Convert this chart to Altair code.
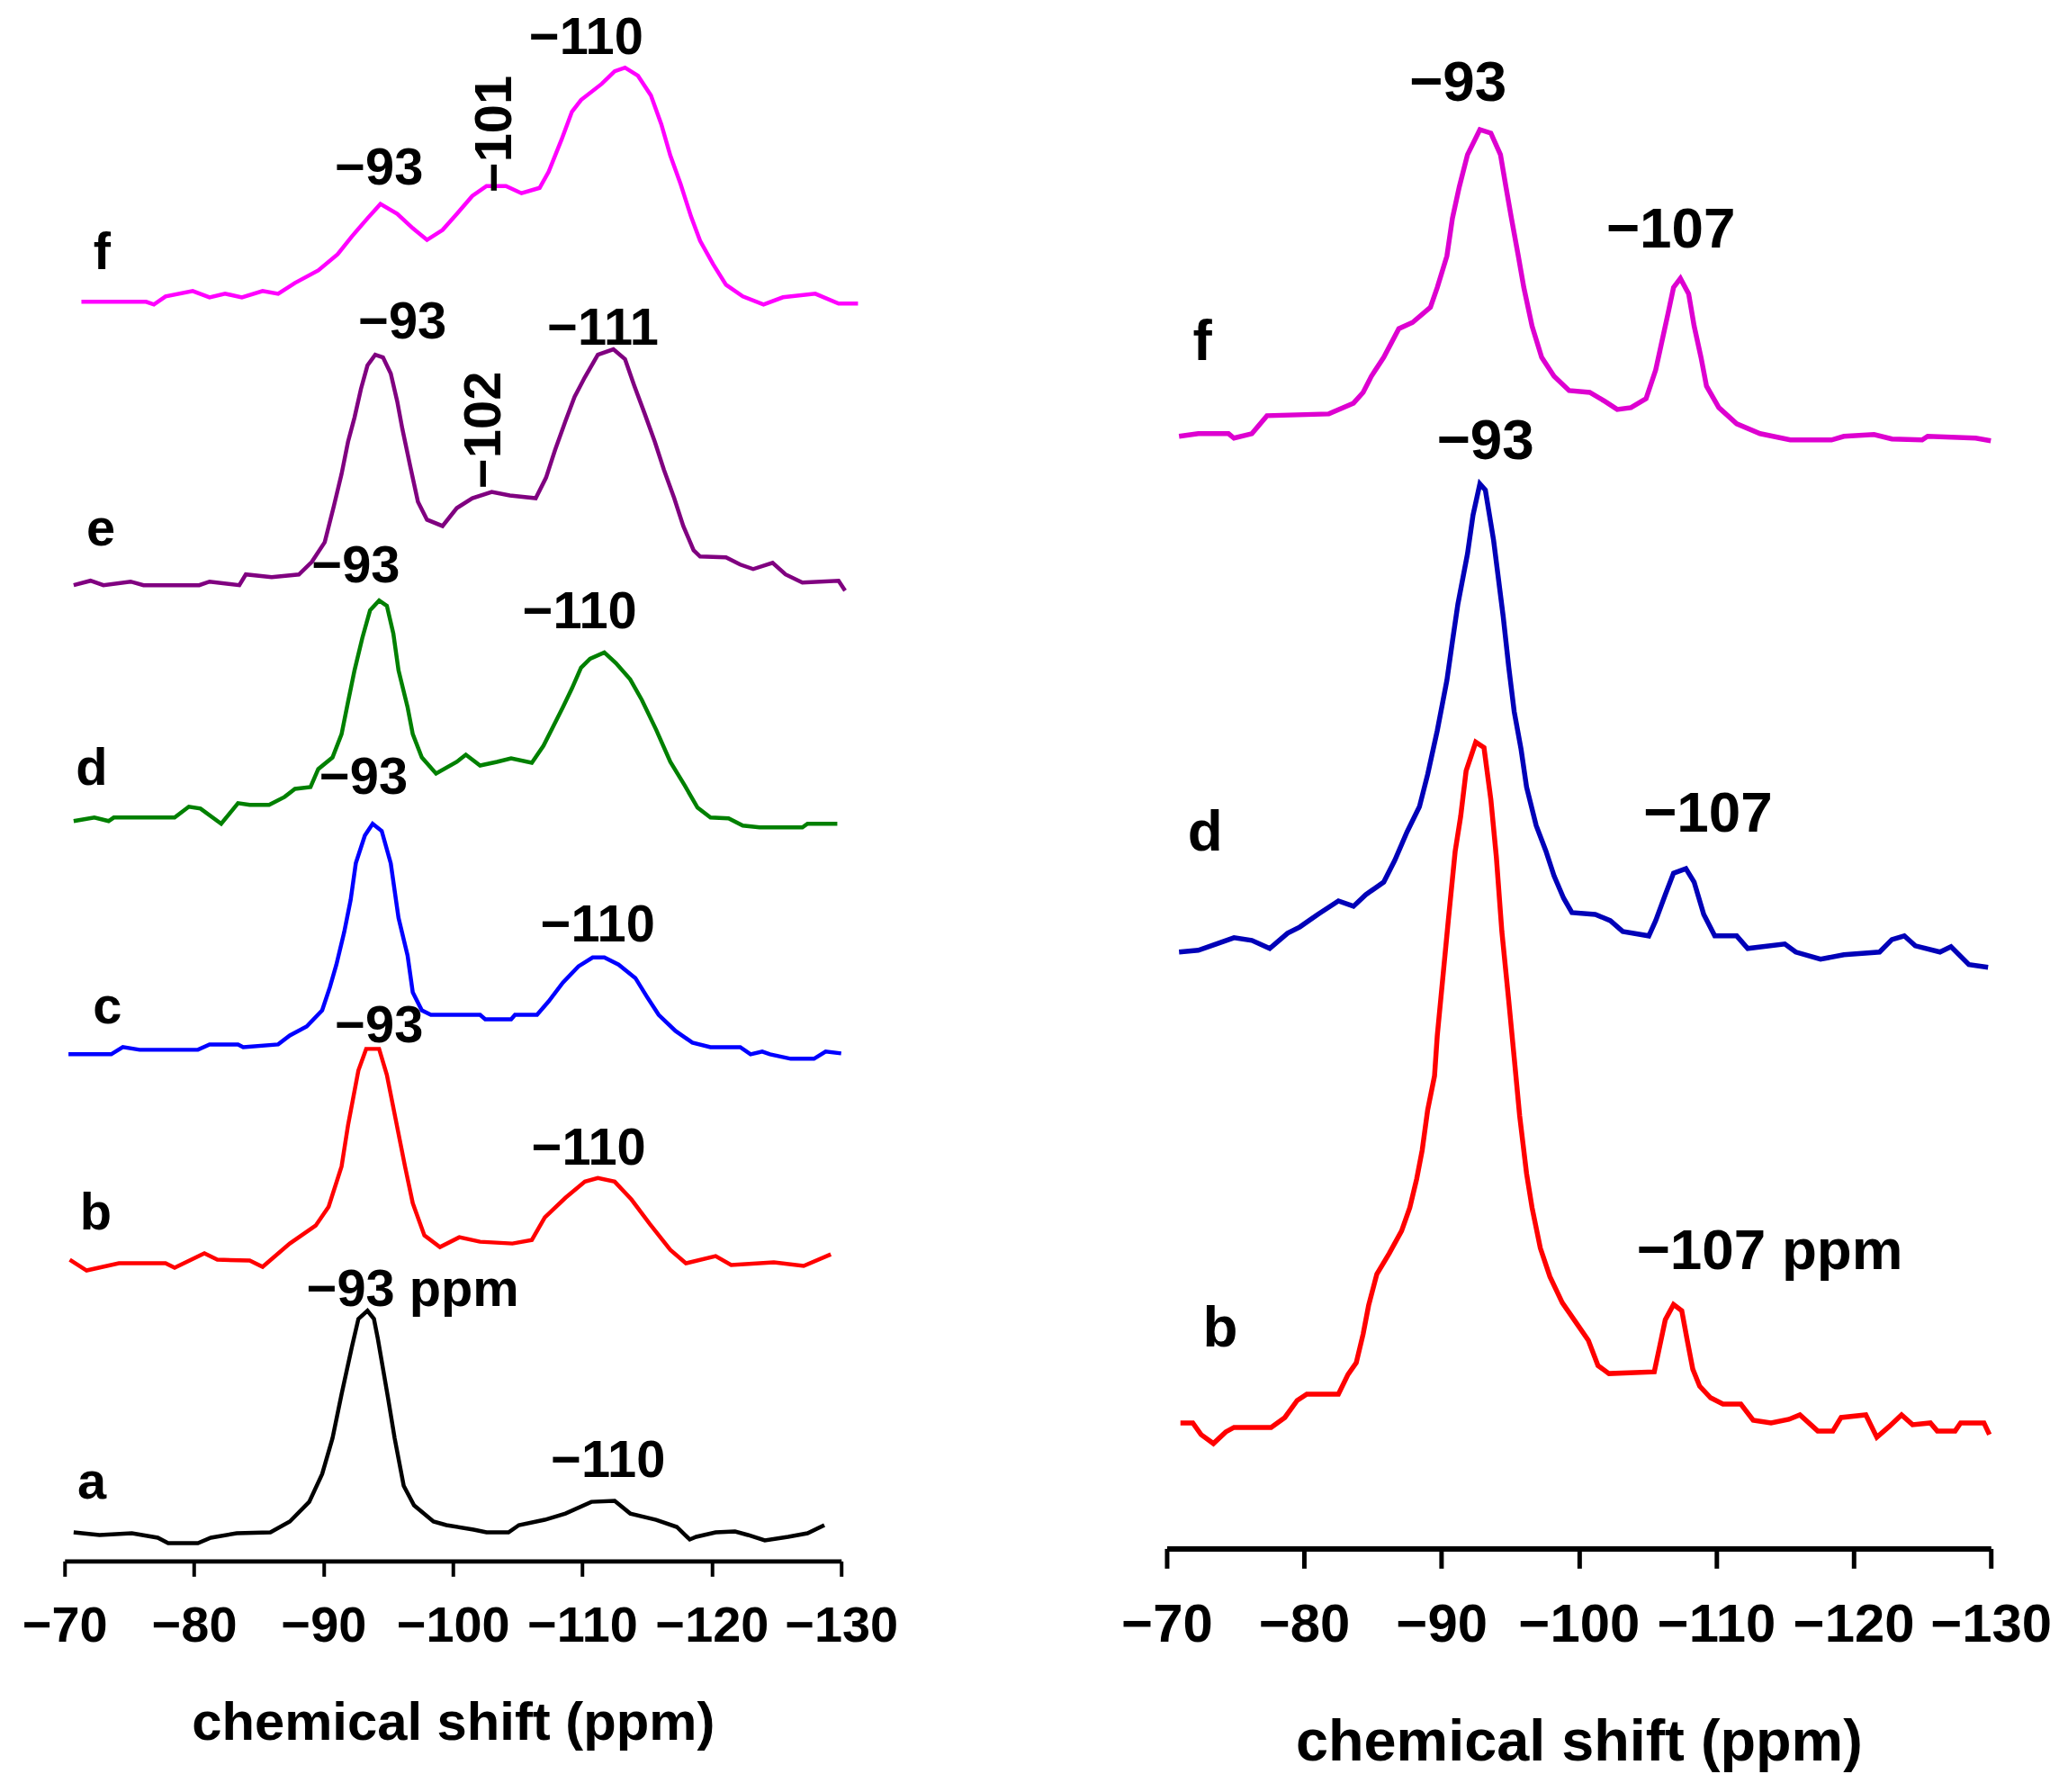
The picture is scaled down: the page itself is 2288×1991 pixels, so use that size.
import altair as alt
import pandas as pd

# ---------------- Left panel spectra (ppm, stacked intensity in a.u.) ----------------
L_a_ppm = [-70.7, -72.7, -75.2, -77.2, -78.0, -80.3, -81.3, -83.3, -85.9, -87.4, -88.9, -89.9, -90.7, -91.4,
           -92.2, -92.7, -93.4, -93.9, -94.2, -95.0, -95.5, -96.2, -97.0, -98.5, -99.5, -101.6, -102.6, -104.3,
           -105.1, -107.1, -108.7, -110.7, -112.5, -113.7, -115.7, -117.3, -118.3, -118.8, -120.3, -121.8,
           -122.8, -124.1, -125.9, -127.4, -128.7]
L_a_int = [32, 29, 31, 26, 20, 20, 26, 31, 32, 44, 66, 97, 137, 186,
           239, 270, 279, 270, 248, 181, 137, 84, 62, 44, 40, 35, 32, 32,
           40, 46, 53, 66, 67, 53, 46, 38, 24, 27, 32, 33,
           29, 23, 27, 31, 40]

L_b_ppm = [-70.4, -71.7, -74.2, -77.8, -78.5, -80.8, -81.8, -84.3, -85.3, -87.4, -89.4, -90.4, -91.4, -91.9,
           -92.7, -93.3, -94.3, -94.9, -95.6, -96.3, -96.9, -97.8, -99.0, -100.5, -102.1, -104.6, -106.1,
           -107.1, -108.7, -110.2, -111.2, -112.5, -113.8, -115.2, -116.8, -118.0, -120.3, -121.5, -124.8,
           -127.1, -129.2]
L_b_int = [336, 324, 332, 332, 327, 343, 336, 335, 328, 354, 374, 395, 440, 486,
           547, 571, 571, 542, 491, 440, 399, 363, 350, 361, 356, 354, 358,
           383, 405, 423, 427, 423, 403, 376, 347, 332, 340, 330, 333,
           329, 342]

L_c_ppm = [-70.3, -73.6, -74.5, -75.8, -80.3, -81.2, -83.4, -83.8, -86.5, -87.4, -88.7, -89.9, -90.5, -91.0,
           -91.6, -92.1, -92.5, -93.2, -93.8, -94.5, -95.2, -95.8, -96.5, -96.9, -97.6, -98.3, -102.1, -102.5,
           -104.5, -104.8, -106.5, -107.4, -108.5, -109.7, -110.8, -111.7, -112.8, -114.1, -115.0, -115.9,
           -117.2, -118.5, -119.9, -122.2, -123.0, -123.9, -124.5, -126.1, -127.9, -128.8, -130.0]
L_c_int = [565, 565, 573, 570, 570, 576, 576, 573, 576, 586, 596, 614, 640, 665,
           701, 737, 778, 809, 822, 814, 778, 717, 675, 634, 614, 609, 609, 604,
           604, 609, 609, 624, 645, 663, 673, 673, 665, 650, 629, 609,
           591, 578, 573, 573, 565, 568, 565, 560, 560, 568, 566]

L_d_ppm = [-70.7, -72.3, -73.4, -73.8, -78.5, -79.6, -80.5, -82.1, -83.4, -84.3, -85.8, -87.0, -87.8, -89.0,
           -89.6, -90.7, -91.4, -91.9, -92.4, -93.0, -93.6, -94.3, -94.9, -95.4, -95.8, -96.5, -96.9, -97.6,
           -98.7, -100.3, -101.0, -102.1, -103.4, -104.5, -106.1, -107.0, -107.8, -108.5, -109.2, -109.9,
           -110.6, -111.7, -112.6, -113.7, -114.6, -115.7, -116.8, -117.9, -118.9, -119.9, -121.3, -122.4,
           -123.7, -127.0, -127.4, -129.7]
L_d_int = [825, 829, 825, 829, 829, 841, 839, 822, 845, 843, 843, 852, 861, 863,
           883, 896, 922, 958, 993, 1029, 1060, 1071, 1065, 1034, 993, 952, 922, 896,
           878, 891, 899, 887, 891, 895, 890, 909, 932, 952, 973, 996,
           1006, 1013, 1001, 983, 960, 927, 891, 865, 840, 829, 828, 820,
           818, 818, 822, 822]

L_e_ppm = [-70.7, -72.0, -73.0, -75.1, -76.1, -80.4, -81.2, -83.5, -84.0, -86.0, -88.1, -89.1, -90.1, -90.8,
           -91.4, -91.9, -92.4, -92.9, -93.4, -94.0, -94.6, -95.2, -95.7, -96.1, -96.7, -97.3, -98.0, -99.2,
           -100.3, -101.5, -103.0, -104.4, -106.4, -107.2, -107.9, -108.7, -109.4, -110.2, -111.2, -112.4,
           -113.3, -114.0, -114.8, -115.6, -116.3, -117.1, -117.8, -118.6, -119.1, -121.1, -122.2, -123.2,
           -124.7, -125.7, -127.0, -129.8, -130.3]
L_e_int = [1088, 1093, 1088, 1092, 1088, 1088, 1092, 1088, 1100, 1097, 1100, 1114, 1136, 1176,
           1212, 1248, 1275, 1307, 1333, 1345, 1342, 1324, 1293, 1262, 1221, 1181, 1161, 1154,
           1174, 1185, 1192, 1188, 1185, 1208, 1239, 1271, 1298, 1320, 1345, 1351,
           1340, 1311, 1280, 1248, 1217, 1185, 1154, 1127, 1120, 1119, 1111, 1106,
           1113, 1100, 1091, 1093, 1082]

L_f_ppm = [-71.3, -76.3, -76.9, -77.8, -79.9, -81.2, -82.4, -83.7, -85.3, -86.5, -87.8, -89.6, -91.1, -92.2,
           -93.4, -94.4, -95.7, -96.9, -98.0, -99.2, -100.3, -101.5, -102.6, -104.1, -105.3, -106.7, -107.4,
           -108.4, -109.2, -109.9, -111.5, -112.5, -113.3, -114.3, -115.3, -116.1, -116.8, -117.6, -118.4,
           -119.1, -120.1, -121.1, -122.4, -124.0, -125.5, -128.0, -129.8, -131.3]
L_f_int = [1404, 1404, 1401, 1410, 1416, 1409, 1413, 1409, 1416, 1413, 1425, 1439, 1457, 1477,
           1497, 1513, 1502, 1486, 1473, 1484, 1502, 1522, 1533, 1533, 1525, 1531, 1549,
           1585, 1616, 1629, 1647, 1661, 1665, 1656, 1634, 1602, 1567, 1535, 1499,
           1472, 1446, 1423, 1410, 1401, 1409, 1413, 1402, 1402]

# ---------------- Right panel spectra ----------------
R_b_ppm = [-71.0, -71.9, -72.5, -73.4, -74.3, -74.9, -77.6, -78.6, -79.5, -80.2, -82.5, -83.2, -83.8, -84.3,
           -84.7, -85.3, -86.2, -87.1, -87.7, -88.2, -88.6, -89.0, -89.5, -89.7, -90.1, -90.5, -91.0, -91.4,
           -91.8, -92.5, -93.1, -93.6, -94.0, -94.4, -94.9, -95.3, -95.7, -96.2, -96.6, -97.2, -97.9, -98.8,
           -99.8, -100.7, -101.4, -102.2, -105.5, -105.9, -106.3, -106.9, -107.5, -107.9, -108.3, -108.8,
           -109.6, -110.5, -111.8, -112.7, -114.0, -115.3, -116.1, -117.4, -118.5, -119.1, -120.9, -121.7,
           -122.6, -123.5, -124.3, -125.6, -126.1, -127.4, -127.8, -129.5, -129.9]
R_b_int = [140, 140, 127, 117, 130, 135, 135, 146, 165, 172, 172, 194, 207, 239,
           271, 306, 329, 354, 380, 412, 444, 489, 527, 572, 636, 700, 777, 816,
           867, 899, 893, 835, 771, 688, 611, 547, 482, 418, 380, 335, 303, 274,
           252, 232, 204, 195, 197, 226, 255, 272, 265, 232, 200, 181,
           168, 161, 161, 143, 140, 144, 149, 131, 131, 146, 149, 124,
           136, 149, 138, 140, 131, 131, 140, 140, 127]

R_d_ppm = [-70.9, -72.3, -73.6, -74.9, -76.2, -77.5, -78.8, -79.7, -81.0, -82.5, -83.6, -84.5, -85.8, -86.6,
           -87.5, -88.4, -89.0, -89.7, -90.4, -90.8, -91.2, -91.9, -92.3, -92.8, -93.2, -93.8, -94.5, -94.9,
           -95.3, -95.8, -96.2, -96.9, -97.6, -98.2, -98.9, -99.5, -101.2, -102.3, -103.2, -105.1, -105.6,
           -106.3, -106.9, -107.8, -108.4, -109.1, -109.9, -111.5, -112.3, -115.0, -115.8, -117.6, -119.3,
           -121.9, -122.8, -123.7, -124.5, -126.3, -127.1, -128.4, -129.8]
R_d_int = [665, 667, 674, 681, 678, 669, 686, 693, 707, 722, 716, 729, 743, 767,
           799, 827, 863, 912, 968, 1011, 1053, 1109, 1152, 1187, 1180, 1124, 1039, 983,
           933, 891, 849, 806, 778, 750, 725, 709, 707, 700, 688, 683, 700,
           729, 753, 758, 743, 707, 683, 683, 669, 674, 665, 657, 662,
           665, 679, 683, 672, 665, 671, 651, 648]

R_f_ppm = [-70.9, -72.3, -74.5, -74.9, -76.2, -77.3, -81.8, -83.6, -84.3, -84.9, -85.8, -86.9, -87.9, -89.2,
           -89.7, -90.4, -90.8, -91.3, -91.9, -92.8, -93.6, -94.3, -94.7, -95.1, -95.6, -96.0, -96.6, -97.3,
           -98.2, -99.3, -100.8, -101.9, -102.8, -103.8, -104.9, -105.6, -106.0, -106.5, -106.9, -107.4,
           -108.0, -108.4, -108.9, -109.3, -110.2, -111.5, -113.2, -115.4, -118.4, -119.3, -121.5, -122.8,
           -125.0, -125.4, -128.9, -130.0]
R_f_int = [1240, 1243, 1243, 1238, 1243, 1263, 1265, 1277, 1289, 1307, 1328, 1360, 1367, 1384,
           1406, 1441, 1483, 1518, 1554, 1582, 1578, 1554, 1518, 1483, 1441, 1406, 1363, 1328,
           1307, 1291, 1289, 1279, 1270, 1272, 1282, 1314, 1342, 1377, 1406, 1416,
           1399, 1363, 1328, 1296, 1272, 1254, 1243, 1236, 1236, 1240, 1242, 1237,
           1236, 1240, 1238, 1235]

# ---------------- Annotations ----------------
L_lab_text = ["f", "\u221293", "\u2212110", "e", "\u221293", "\u2212111", "d", "\u221293", "\u2212110",
              "c", "\u221293", "\u2212110", "b", "\u221293", "\u2212110", "a", "\u221293 ppm", "\u2212110"]
L_lab_ppm = [-72.9, -94.3, -110.3, -72.8, -96.1, -111.6, -72.1, -92.5, -109.8,
             -73.3, -93.1, -111.2, -72.4, -94.3, -110.5, -72.1, -96.9, -112.0]
L_lab_int = [1440, 1535, 1680, 1132, 1363, 1356, 865, 1091, 1040,
             599, 855, 691, 370, 578, 442, 70, 284, 94]

L_rot_text = ["\u2212101", "\u2212102"]
L_rot_ppm = [-103.3, -102.5]
L_rot_int = [1591, 1261]

R_lab_text = ["f", "\u221293", "\u2212107", "d", "\u221293", "\u2212107", "b", "\u2212107 ppm"]
R_lab_ppm = [-72.6, -91.2, -106.7, -72.8, -93.2, -109.4, -73.9, -113.9]
R_lab_int = [1325, 1614, 1451, 778, 1215, 799, 225, 312]

series_names = ["L-a", "L-b", "L-c", "L-d", "L-e", "L-f", "R-b", "R-d", "R-f"]
series_colors = ["#000000", "#ff0000", "#0000ff", "#008000", "#800080", "#ff00ff",
                 "#ff0000", "#0000b8", "#dd00d0"]
tick_vals = [-70, -80, -90, -100, -110, -120, -130]

FONT = "Liberation Sans"


def frame(pairs):
    rows = []
    for name, xs, ys in pairs:
        for x, y in zip(xs, ys):
            rows.append({"ppm": x, "intensity": y, "series": name})
    return pd.DataFrame(rows)


left_df = frame([("L-a", L_a_ppm, L_a_int), ("L-b", L_b_ppm, L_b_int), ("L-c", L_c_ppm, L_c_int),
                 ("L-d", L_d_ppm, L_d_int), ("L-e", L_e_ppm, L_e_int), ("L-f", L_f_ppm, L_f_int)])
right_df = frame([("R-b", R_b_ppm, R_b_int), ("R-d", R_d_ppm, R_d_int), ("R-f", R_f_ppm, R_f_int)])

left_lab = pd.DataFrame({"text": L_lab_text, "ppm": L_lab_ppm, "intensity": L_lab_int})
left_rot = pd.DataFrame({"text": L_rot_text, "ppm": L_rot_ppm, "intensity": L_rot_int})
right_lab = pd.DataFrame({"text": R_lab_text, "ppm": R_lab_ppm, "intensity": R_lab_int})


def panel(df, labs, rots, width, height, ymax, fsize, afsize, tfsize, tick, lpad, tpad, dwidth, sw):
    xscale = alt.Scale(domain=[-130, -70], reverse=True, nice=False, zero=False)
    yscale = alt.Scale(domain=[0, ymax], nice=False, zero=True)
    xaxis = alt.Axis(values=tick_vals, title="chemical shift (ppm)", grid=False,
                     labelFont=FONT, labelFontSize=fsize, labelFontWeight="bold", labelColor="black",
                     titleFont=FONT, titleFontSize=tfsize, titleFontWeight="bold", titleColor="black",
                     tickSize=tick, tickWidth=dwidth - 1, tickColor="black",
                     domainWidth=dwidth, domainColor="black", labelPadding=lpad, titlePadding=tpad,
                     labelOverlap=False, labelFlush=False, format="d")
    lines = alt.Chart(df).mark_line(strokeWidth=sw, clip=False).encode(
        x=alt.X("ppm:Q", scale=xscale, axis=xaxis),
        y=alt.Y("intensity:Q", scale=yscale, axis=None),
        color=alt.Color("series:N", scale=alt.Scale(domain=series_names, range=series_colors), legend=None),
        order=alt.Order("ppm:Q", sort="descending"),
    )
    texts = alt.Chart(labs).mark_text(font=FONT, fontSize=afsize, fontWeight="bold", color="black",
                                      align="center", baseline="alphabetic").encode(
        x=alt.X("ppm:Q", scale=xscale),
        y=alt.Y("intensity:Q", scale=yscale),
        text="text:N",
    )
    layers = [lines, texts]
    if rots is not None:
        rtexts = alt.Chart(rots).mark_text(font=FONT, fontSize=afsize, fontWeight="bold", color="black",
                                           align="center", baseline="middle", angle=270).encode(
            x=alt.X("ppm:Q", scale=xscale),
            y=alt.Y("intensity:Q", scale=yscale),
            text="text:N",
        )
        layers.append(rtexts)
    return alt.layer(*layers).properties(width=width, height=height)


left = panel(left_df, left_lab, left_rot, 866, 1729, 1729, 56, 58, 60, 17, 28, 52, 5, 4.5)
right = panel(right_df, right_lab, None, 919, 1715, 1715, 60, 64, 65, 22, 34, 70, 6, 5.5)

chart = alt.hconcat(left, right, spacing=248).properties(
    padding={"left": 16, "top": 0, "right": 0, "bottom": 0},
    background="white",
).configure_view(strokeWidth=0, stroke=None)

chart.save("out.html", embed_options={"renderer": "svg", "actions": False})
